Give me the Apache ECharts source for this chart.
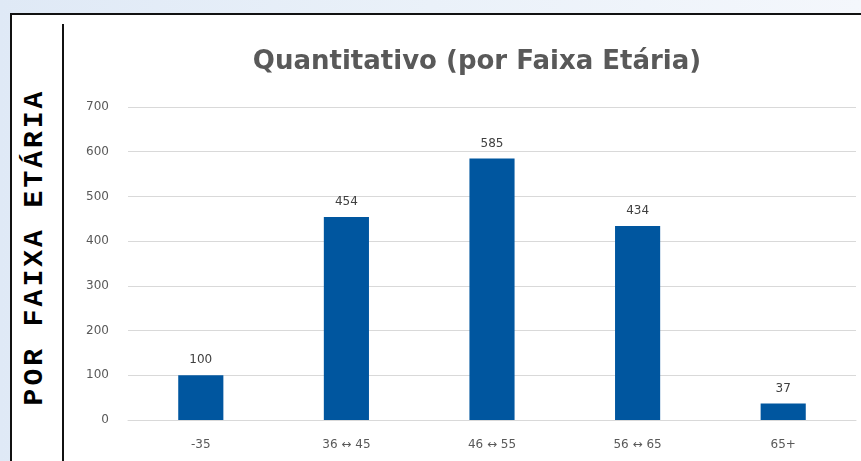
<!DOCTYPE html>
<html>
<head>
<meta charset="utf-8">
<title>Quantitativo por Faixa Etária</title>
<script src="https://cdn.jsdelivr.net/npm/echarts@6/dist/echarts.min.js"></script>
<style>
  html, body { margin: 0; padding: 0; }
  body {
    width: 861px; height: 461px; overflow: hidden; position: relative;
    background: linear-gradient(90deg, #dfe9f6 0%, #eaf1f9 50%, #f4f7fc 100%);
  }
  .panel {
    position: absolute; left: 10px; top: 13px; width: 900px; height: 500px;
    background: #fff; border-left: 2px solid #111; border-top: 2px solid #111;
  }
  .sep {
    position: absolute; left: 62px; top: 24px; width: 2px; height: 440px; background: #111;
  }
  .side {
    position: absolute; left: 34px; top: 247px;
    transform: translate(-50%, -50%) rotate(-90deg);
    white-space: nowrap;
    font-family: "Liberation Mono", "DejaVu Sans Mono", monospace;
    font-weight: bold; font-size: 28px; letter-spacing: 3px; color: #000;
  }
  #chart { position: absolute; left: 0; top: 0; width: 861px; height: 461px; }
</style>
</head>
<body>
<div class="panel"></div>
<div class="sep"></div>
<div class="side">POR FAIXA ETÁRIA</div>
<div id="chart"></div>
<script>
// dados do gráfico
const faixas = ['-35', '36 \u2194 45', '46 \u2194 55', '56 \u2194 65', '65+']
const quantidades = [100, 454, 585, 434, 37]
const tituloGrafico = 'Quantitativo (por Faixa Etária)'

const chart = echarts.init(document.getElementById('chart'), null, { renderer: 'canvas' })

const options = {
  backgroundColor: 'transparent',
  animation: false,
  title: {
    text: tituloGrafico,
    left: 472,
    top: 44,
    textAlign: 'center',
    textStyle: {
      color: '#595959',
      fontFamily: 'DejaVu Sans',
      fontWeight: 'bold',
      fontSize: 26
    }
  },
  grid: {
    left: 128,
    right: 5,
    top: 107,
    bottom: 41
  },
  xAxis: {
    type: 'category',
    data: faixas,
    axisLine: { lineStyle: { color: '#d9d9d9', width: 1 } },
    axisTick: { show: false },
    axisLabel: {
      color: '#595959',
      fontSize: 12,
      margin: 19,
      fontFamily: 'DejaVu Sans'
    }
  },
  yAxis: {
    type: 'value',
    min: 0,
    max: 700,
    interval: 100,
    axisLine: { show: false },
    axisTick: { show: false },
    splitLine: { lineStyle: { color: '#d9d9d9', width: 1 } },
    axisLabel: {
      color: '#595959',
      fontSize: 12,
      margin: 19,
      fontFamily: 'DejaVu Sans'
    }
  },
  series: [{
    name: 'Quantitativo',
    type: 'bar',
    data: quantidades,
    barWidth: '31%',
    itemStyle: { color: '#00569F' },
    label: {
      show: true,
      position: 'top',
      distance: 9,
      color: '#404040',
      fontSize: 12,
      fontFamily: 'DejaVu Sans'
    }
  }]
}

chart.setOption(options)
</script>
</body>
</html>
